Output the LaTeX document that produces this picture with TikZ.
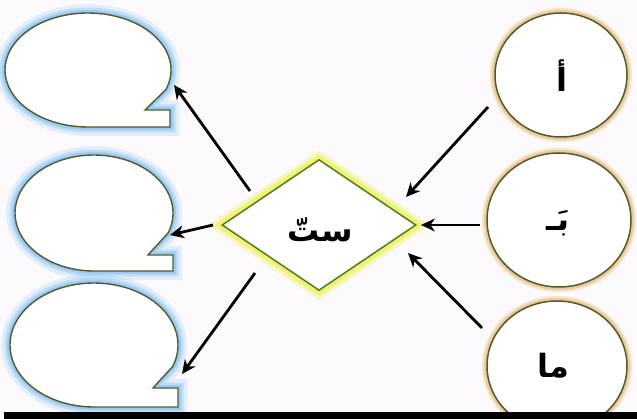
\documentclass[tikz,border=0pt]{standalone}
\usepackage{fontspec}
\usetikzlibrary{shapes.geometric,arrows.meta}
\newfontfamily\arabicfont[Script=Arabic]{DejaVu Sans Bold}
\TeXXeTstate=1
\definecolor{bgc}{RGB}{253,250,253}
\definecolor{olivestroke}{RGB}{80,90,45}
\definecolor{dgreen}{RGB}{80,125,30}
\definecolor{glowblue}{RGB}{110,185,240}
\definecolor{glowyellow}{RGB}{235,240,70}
\definecolor{glowtan}{RGB}{228,180,100}
\tikzset{
  arr/.style={line width=2.8pt,-{Stealth[length=14pt,width=13pt]}},
  bubble/.style={draw=olivestroke,line width=1.4pt,fill=white},
  glowB/.style={draw=glowblue,fill=none},
  circ/.style={ellipse,draw=olivestroke,line width=1.5pt,fill=white,inner sep=0pt,
    preaction={draw=glowtan,line width=10pt,opacity=0.3},
    preaction={draw=glowtan,line width=6pt,opacity=0.5}},
  dia/.style={diamond,draw=dgreen,line width=1.5pt,fill=white,inner sep=0pt,
    preaction={draw=glowyellow,line width=16pt,opacity=0.35},
    preaction={draw=glowyellow,line width=9pt,opacity=0.6}},
  lbl/.style={font=\arabicfont\fontsize{32}{36}\selectfont,inner sep=0pt}
}
% #1 options, #2 cx, #3 cy, #4 rx, #5 ry, #6 notch x, #7 notch y, #8 right x
\newcommand{\bubbleshape}[8]{%
  \draw[#1] (#2,{#3+#5}) arc[start angle=90,end angle=380,x radius=#4,y radius=#5]
    -- (#6,#7) -- (#8,#7) -- (#8,{#3+#5}) -- cycle;}
\newcommand{\glowbubble}[7]{%
  \bubbleshape{glowB,line width=18pt,opacity=0.18}{#1}{#2}{#3}{#4}{#5}{#6}{#7}
  \bubbleshape{glowB,line width=11pt,opacity=0.3}{#1}{#2}{#3}{#4}{#5}{#6}{#7}
  \bubbleshape{glowB,line width=6pt,opacity=0.45}{#1}{#2}{#3}{#4}{#5}{#6}{#7}
  \bubbleshape{bubble}{#1}{#2}{#3}{#4}{#5}{#6}{#7}}
\begin{document}
\begin{tikzpicture}[x=1pt,y=-1pt]
\useasboundingbox (0,0) rectangle (637,419);
\clip (0,0) rectangle (637,419);
\fill[bgc] (0,0) rectangle (637,419);

% speech bubbles (left)
\glowbubble{88}{70}{83}{57}{145}{110}{170}
\glowbubble{94}{213}{79}{58}{148}{255}{173}
\glowbubble{94}{345}{84}{62}{153}{388}{178}

% diamond
\node[dia,minimum width=194pt,minimum height=131pt] (d) at (319,225) {};
\node[lbl] (dt) at (320,230) {\beginR ستّ\endR};

% right ellipses
\node[circ,minimum width=132pt,minimum height=124pt] (e1) at (561,75) {};
\node[lbl] (t1) at (562,76) {\beginR أ\endR};
\node[circ,minimum width=144pt,minimum height=134pt] (e2) at (559,220) {};
\node[lbl] (t2) at (558,223) {\beginR بَـ\endR};
\node[circ,minimum width=140pt,minimum height=130pt] (e3) at (557,366) {};
\node[lbl] (t3) at (553,366) {\beginR ما\endR};

% arrow end points
\coordinate (a1s) at (250,191);
\coordinate (a1e) at (174,85);
\coordinate (a2s) at (213,225);
\coordinate (a2e) at (170,235);
\coordinate (a3s) at (255,273);
\coordinate (a3e) at (182,374);
\coordinate (b1s) at (488,107);
\coordinate (b1e) at (406,197);
\coordinate (b2s) at (480,225);
\coordinate (b2e) at (421,225);
\coordinate (b3s) at (482,328);
\coordinate (b3e) at (408,253);

\draw[arr] (a1s) -- (a1e);
\draw[arr] (a2s) -- (a2e);
\draw[arr] (a3s) -- (a3e);
\draw[arr] (b1s) -- (b1e);
\draw[arr] (b2s) -- (b2e);
\draw[arr] (b3s) -- (b3e);

% bottom bar
\fill[black] (4,412) rectangle (637,419);
\end{tikzpicture}
\end{document}
